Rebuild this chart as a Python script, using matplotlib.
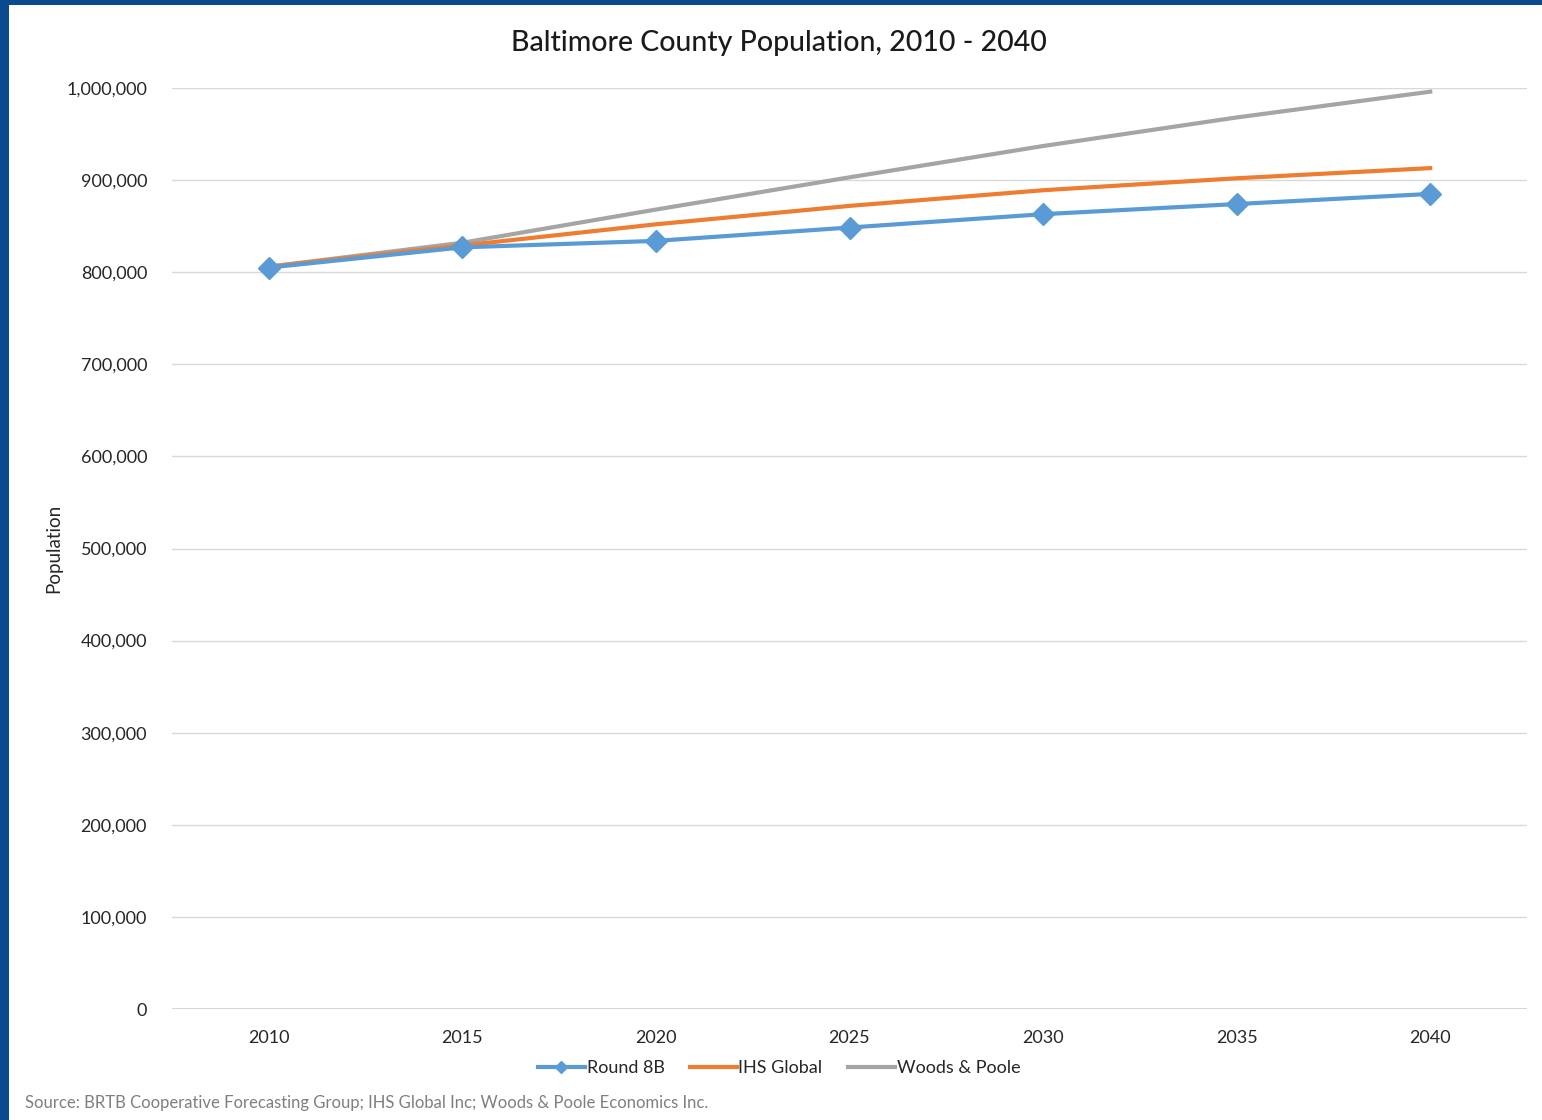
import matplotlib
matplotlib.use("Agg")
import matplotlib.pyplot as plt
from matplotlib.patches import Rectangle
from matplotlib.ticker import FuncFormatter
from matplotlib.lines import Line2D

years = ["2010", "2015", "2020", "2025", "2030", "2035", "2040"]
round_8b = [805000, 827000, 834000, 848500, 863000, 874000, 885000]
ihs_global = [806000, 829000, 852000, 872000, 889000, 902000, 913000]
woods_poole = [806000, 832000, 868000, 903000, 937000, 968000, 996000]

plt.rcParams['font.family'] = ['Lato', 'DejaVu Sans']

fig = plt.figure(figsize=(15.42, 11.2), dpi=100)
fig.patch.set_facecolor('white')

# blue frame (left and top)
fig.patches.append(Rectangle((0, 0), 9/1542, 1, transform=fig.transFigure,
                             facecolor='#0b4a8e', edgecolor='none', zorder=0))
fig.patches.append(Rectangle((0, 1 - 5/1120), 1, 5/1120, transform=fig.transFigure,
                             facecolor='#0b4a8e', edgecolor='none', zorder=0))

ax = fig.add_axes([172/1542, 1 - 1009/1120, (1527-172)/1542, (1009-88)/1120])
x = list(range(len(years)))

ax.plot(x, round_8b, color='#5B9BD5', lw=3, marker='D', markersize=11,
        label='Round 8B', zorder=3)
ax.plot(x, ihs_global, color='#ED7D31', lw=3, label='IHS Global', zorder=2)
ax.plot(x, woods_poole, color='#A5A5A5', lw=3, label='Woods & Poole', zorder=1)

ax.set_xlim(-0.5, len(years) - 0.5)
ax.set_ylim(0, 1000000)
ax.set_yticks(range(0, 1000001, 100000))
ax.yaxis.set_major_formatter(FuncFormatter(lambda v, p: f"{int(v):,}"))
ax.set_xticks(x)
ax.set_xticklabels(years)
ax.tick_params(length=0, labelsize=13, colors='#262626')
ax.tick_params(axis='x', pad=15)
ax.tick_params(axis='y', pad=18)
ax.grid(axis='y', color='#d9d9d9', lw=1)
ax.axhline(0, color='#d0d0d0', lw=1.2, zorder=0)
ax.set_axisbelow(True)
for s in ax.spines.values():
    s.set_visible(False)

ax.set_ylabel('Population', fontsize=13.5, color='#262626')
ax.yaxis.set_label_coords(-0.081, 0.5)

fig.text(779/1542, 1 - 43/1120, 'Baltimore County Population, 2010 - 2040',
         ha='center', va='center', fontsize=20.5, color='#1a1a1a', fontweight='medium')

handles = [
    Line2D([], [], color='#5B9BD5', lw=3, marker='D', markersize=6),
    Line2D([], [], color='#ED7D31', lw=3),
    Line2D([], [], color='#A5A5A5', lw=3),
]
ax.legend(handles, ['Round 8B', 'IHS Global', 'Woods & Poole'],
          loc='center', bbox_to_anchor=(779/1542, 1 - 1068/1120),
          bbox_transform=fig.transFigure, ncol=3, frameon=False, fontsize=13,
          handlelength=2.6, handletextpad=0.1, columnspacing=1.4,
          labelcolor='#262626')

fig.text(25/1542, 1 - 1103/1120,
         'Source: BRTB Cooperative Forecasting Group; IHS Global Inc; Woods & Poole Economics Inc.',
         ha='left', va='center', fontsize=12, color='#7f7f7f')

fig.savefig('out.png', dpi=100)
